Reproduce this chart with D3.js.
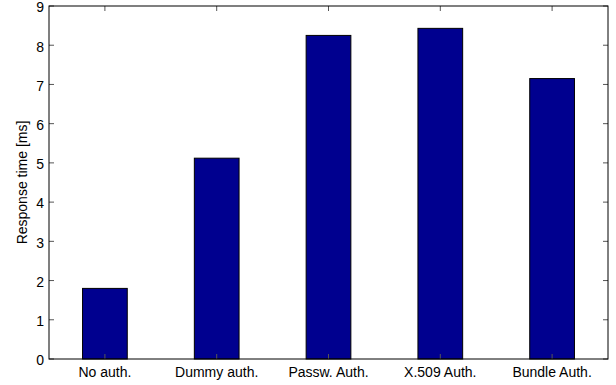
<!DOCTYPE html>
<html><head><meta charset="utf-8">
<script src="https://cdn.jsdelivr.net/npm/d3@7"></script>
<style>body{margin:0;background:#fff}svg{display:block}text{font-family:"Liberation Sans",Arial,sans-serif;}</style>
</head><body><svg id="c" width="616" height="385"></svg>
<script>
const categories = ["No auth.", "Dummy auth.", "Passw. Auth.", "X.509 Auth.", "Bundle Auth."];
const values = [1.80, 5.12, 8.25, 8.43, 7.15];
const yTicks = [0,1,2,3,4,5,6,7,8,9];

const svg = d3.select("#c");
const L = 49, R = 608, T = 6, B = 359;
const x = d3.scaleLinear().domain([0.5, categories.length + 0.5]).range([L, R]);
const y = d3.scaleLinear().domain([0, 9]).range([B, T]);
const bw = (x(1) - x(0)) * 0.4;

svg.append("g").selectAll("rect").data(values).join("rect")
  .attr("x", (d,i) => x(i+1) - bw/2).attr("width", bw)
  .attr("y", d => y(d)).attr("height", d => y(0) - y(d))
  .attr("fill", "#00008F").attr("stroke", "#000").attr("stroke-width", 1);

const tl = 5;
const g = svg.append("g");
yTicks.forEach(t => {
  g.append("line").attr("x1", L).attr("x2", L+tl).attr("y1", y(t)).attr("y2", y(t)).attr("stroke", "#555");
  g.append("line").attr("x1", R).attr("x2", R-tl).attr("y1", y(t)).attr("y2", y(t)).attr("stroke", "#555");
  g.append("text").attr("x", L-5).attr("y", y(t)).attr("dy", "0.45em").attr("text-anchor", "end").attr("font-size", 14).text(t);
});
categories.forEach((c,i) => {
  const cx = x(i+1);
  g.append("line").attr("x1", cx).attr("x2", cx).attr("y1", B).attr("y2", B-tl).attr("stroke", "#555");
  g.append("line").attr("x1", cx).attr("x2", cx).attr("y1", T).attr("y2", T+tl).attr("stroke", "#555");
  g.append("text").attr("x", cx).attr("y", B+18).attr("text-anchor", "middle").attr("font-size", 14).text(c);
});
g.append("rect").attr("x", L).attr("y", T).attr("width", R-L).attr("height", B-T).attr("fill", "none").attr("stroke", "#000").attr("stroke-width", 1);
svg.append("text").attr("transform", `translate(27,${(T+B)/2}) rotate(-90)`).attr("text-anchor", "middle").attr("font-size", 14).text("Response time [ms]");
</script></body></html>
